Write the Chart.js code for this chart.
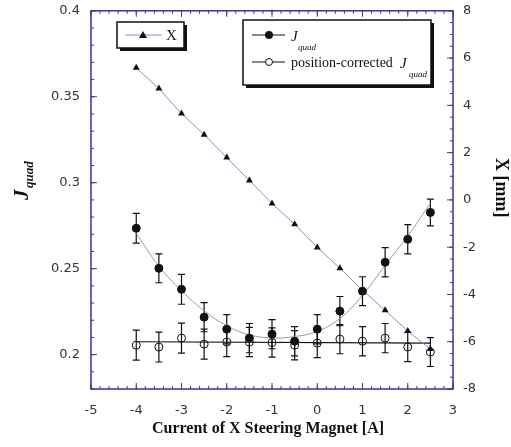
<!DOCTYPE html>
<html>
<head>
<meta charset="utf-8">
<script src="https://cdn.jsdelivr.net/npm/chart.js@4.4.0/dist/chart.umd.min.js"></script>
<style>
  html, body { margin: 0; padding: 0; background: #fff; }
</style>
</head>
<body>
<canvas id="myChart" width="511" height="447"></canvas>
<script>
// steering magnet current [A]
var currents = [-4, -3.5, -3, -2.5, -2, -1.5, -1, -0.5, 0, 0.5, 1, 1.5, 2, 2.5];
// J_quad (filled circles) and its error
var jquad = [0.2735, 0.2502, 0.2380, 0.2218, 0.2148, 0.2096, 0.2119, 0.2078, 0.2148, 0.2253, 0.2369, 0.2537, 0.2671, 0.2827];
var jquadErr = [0.0087, 0.0084, 0.0087, 0.0085, 0.0085, 0.0085, 0.0085, 0.0085, 0.0085, 0.0085, 0.0084, 0.0085, 0.0085, 0.0078];
// position-corrected J_quad (open circles)
var jcorr = [0.2055, 0.2044, 0.2096, 0.2061, 0.2073, 0.2073, 0.2070, 0.2055, 0.2067, 0.2090, 0.2078, 0.2096, 0.2044, 0.2015];
var jcorrErr = [0.0087, 0.0087, 0.0087, 0.0087, 0.0085, 0.0085, 0.0085, 0.0085, 0.0085, 0.0085, 0.0085, 0.0085, 0.0085, 0.0084];
// beam position X [mm] (triangles, right axis)
var xPos = [5.59, 4.71, 3.65, 2.76, 1.79, 0.82, -0.15, -1.03, -2.01, -2.89, -3.82, -4.67, -5.55, -6.31];
// fit curves
var fitJ = [0.2705, 0.2515, 0.2372, 0.2255, 0.2168, 0.2115, 0.2097, 0.2105, 0.2135, 0.2210, 0.2345, 0.2520, 0.2690, 0.2880];
var fitCorrX = [-4, 2.5];
var fitCorr = [0.2075, 0.2067];
// tick labels
var xTicks = [-5, -4, -3, -2, -1, 0, 1, 2, 3];
var yLeftTicks = [0.2, 0.25, 0.3, 0.35, 0.4];
var yRightTicks = [-8, -6, -4, -2, 0, 2, 4, 6, 8];

var axisBlue = "#35359c";
var tickFont = { family: "DejaVu Sans", size: 13 };
var tickColor = "#333";

function pts(xs, ys) {
  return xs.map(function (x, i) { return { x: x, y: ys[i] }; });
}

// error bars for the two J series
var errorBars = {
  id: "errorBars",
  beforeDatasetsDraw: function (chart) {
    var ctx = chart.ctx;
    var xs = chart.scales.x, ys = chart.scales.y;
    ctx.save();
    ctx.strokeStyle = "#111";
    ctx.lineWidth = 1.2;
    [[jquad, jquadErr], [jcorr, jcorrErr]].forEach(function (s) {
      currents.forEach(function (c, i) {
        var px = xs.getPixelForValue(c);
        var top = ys.getPixelForValue(s[0][i] + s[1][i]);
        var bot = ys.getPixelForValue(s[0][i] - s[1][i]);
        ctx.beginPath();
        ctx.moveTo(px, top); ctx.lineTo(px, bot);
        ctx.moveTo(px - 3.5, top); ctx.lineTo(px + 3.5, top);
        ctx.moveTo(px - 3.5, bot); ctx.lineTo(px + 3.5, bot);
        ctx.stroke();
      });
    });
    ctx.restore();
  }
};

function drawTicks(ctx, scale, from, to, step, pos, len, area) {
  var n = Math.round((to - from) / step);
  for (var i = 0; i <= n; i++) {
    var v = from + i * step;
    var p = scale.getPixelForValue(v);
    ctx.beginPath();
    if (pos === "bottom") { ctx.moveTo(p, area.bottom); ctx.lineTo(p, area.bottom - len); }
    if (pos === "top") { ctx.moveTo(p, area.top); ctx.lineTo(p, area.top + len); }
    if (pos === "left") { ctx.moveTo(area.left, p); ctx.lineTo(area.left + len, p); }
    if (pos === "right") { ctx.moveTo(area.right, p); ctx.lineTo(area.right - len, p); }
    ctx.stroke();
  }
}

function box(ctx, x, y, w, h) {
  ctx.fillStyle = "#111";
  ctx.fillRect(x + 3, y + 3, w, h);
  ctx.fillStyle = "#fff";
  ctx.fillRect(x, y, w, h);
  ctx.strokeStyle = "#111";
  ctx.lineWidth = 1.5;
  ctx.strokeRect(x, y, w, h);
}

var decorations = {
  id: "decorations",
  afterDatasetsDraw: function (chart) {
    var ctx = chart.ctx, a = chart.chartArea;
    var xs = chart.scales.x, yl = chart.scales.y, yr = chart.scales.y2;
    ctx.save();
    // frame + inward ticks
    ctx.strokeStyle = axisBlue;
    ctx.lineWidth = 1.5;
    ctx.strokeRect(a.left, a.top, a.right - a.left, a.bottom - a.top);
    ctx.lineWidth = 1;
    drawTicks(ctx, xs, -5, 3, 1, "bottom", 6, a);
    drawTicks(ctx, xs, -5, 3, 0.2, "bottom", 3, a);
    drawTicks(ctx, xs, -5, 3, 1, "top", 6, a);
    drawTicks(ctx, xs, -5, 3, 0.2, "top", 3, a);
    drawTicks(ctx, yl, 0.2, 0.4, 0.05, "left", 6, a);
    drawTicks(ctx, yl, 0.18, 0.4, 0.01, "left", 3, a);
    drawTicks(ctx, yr, -8, 8, 2, "right", 6, a);
    drawTicks(ctx, yr, -8, 8, 0.5, "right", 3, a);

    // legend 1
    box(ctx, 117, 22, 67, 26);
    ctx.strokeStyle = "#8c8cd0"; ctx.lineWidth = 1;
    ctx.beginPath(); ctx.moveTo(125, 35); ctx.lineTo(162, 35); ctx.stroke();
    ctx.fillStyle = "#111";
    ctx.beginPath(); ctx.moveTo(143, 31); ctx.lineTo(147, 38); ctx.lineTo(139, 38); ctx.closePath(); ctx.fill();
    ctx.font = '15px "Liberation Serif"';
    ctx.textAlign = "left"; ctx.textBaseline = "alphabetic";
    ctx.fillText("X", 166, 40);

    // legend 2
    box(ctx, 243, 20, 188, 65);
    ctx.strokeStyle = "#111"; ctx.lineWidth = 1;
    ctx.beginPath(); ctx.moveTo(252, 35); ctx.lineTo(285, 35); ctx.stroke();
    ctx.beginPath(); ctx.moveTo(252, 62); ctx.lineTo(285, 62); ctx.stroke();
    ctx.fillStyle = "#111";
    ctx.beginPath(); ctx.arc(269, 35, 4, 0, Math.PI * 2); ctx.fill();
    ctx.fillStyle = "#fff";
    ctx.beginPath(); ctx.arc(269, 62, 3.5, 0, Math.PI * 2); ctx.fill(); ctx.stroke();
    ctx.fillStyle = "#111";
    ctx.font = 'italic 15px "Liberation Serif"';
    ctx.fillText("J", 291, 41);
    ctx.font = 'italic 9px "Liberation Serif"';
    ctx.fillText("quad", 298, 50);
    ctx.font = '14px "Liberation Serif"';
    ctx.fillText("position-corrected", 291, 67);
    ctx.font = 'italic 15px "Liberation Serif"';
    ctx.fillText("J", 400, 68);
    ctx.font = 'italic 9px "Liberation Serif"';
    ctx.fillText("quad", 409, 77);

    // axis titles
    ctx.fillStyle = "#111";
    ctx.save();
    ctx.translate(28, 200);
    ctx.rotate(-Math.PI / 2);
    ctx.font = 'bold italic 21px "Liberation Serif"';
    ctx.fillText("J", 0, 0);
    ctx.font = 'bold italic 13px "Liberation Serif"';
    ctx.fillText("quad", 12, 5);
    ctx.restore();

    ctx.save();
    ctx.translate(496, 158);
    ctx.rotate(Math.PI / 2);
    ctx.font = 'bold 18px "Liberation Serif"';
    ctx.fillText("X [mm]", 0, 0);
    ctx.restore();

    ctx.textAlign = "center";
    ctx.font = 'bold 16px "Liberation Serif"';
    ctx.fillText("Current of X Steering Magnet [A]", 268, 433);
    ctx.restore();
  }
};

var ctx = document.getElementById("myChart");
window.chart = new Chart(ctx, {
  type: "scatter",
  data: {
    datasets: [
      {
        label: "J_quad",
        data: pts(currents, jquad),
        yAxisID: "y",
        showLine: false,
        pointStyle: "circle",
        pointRadius: 4,
        backgroundColor: "#111",
        borderColor: "#111",
        order: 1
      },
      {
        label: "position-corrected J_quad",
        data: pts(currents, jcorr),
        yAxisID: "y",
        showLine: false,
        pointStyle: "circle",
        pointRadius: 4,
        borderWidth: 1,
        backgroundColor: "rgba(255,255,255,0)",
        borderColor: "#111",
        order: 2
      },
      {
        label: "X",
        data: pts(currents, xPos),
        yAxisID: "y2",
        showLine: true,
        borderColor: "#8c8cd0",
        borderWidth: 1,
        pointStyle: "triangle",
        pointRadius: 4,
        pointBackgroundColor: "#111",
        pointBorderColor: "#111",
        pointBorderWidth: 0,
        order: 3
      },
      {
        label: "fit J",
        data: pts(currents, fitJ),
        yAxisID: "y",
        showLine: true,
        tension: 0.4,
        borderColor: "#999",
        borderWidth: 1,
        pointRadius: 0,
        order: 4
      },
      {
        label: "fit corrected",
        data: pts(fitCorrX, fitCorr),
        yAxisID: "y",
        showLine: true,
        borderColor: "#111",
        borderWidth: 1.2,
        pointRadius: 0,
        order: 5
      }
    ]
  },
  options: {
    responsive: false,
    animation: false,
    layout: { padding: { top: 10, left: 0, right: 0, bottom: 0 } },
    plugins: { legend: { display: false }, tooltip: { enabled: false } },
    scales: {
      x: {
        type: "linear",
        position: "bottom",
        min: -5,
        max: 3,
        afterBuildTicks: function (s) { s.ticks = xTicks.map(function (v) { return { value: v }; }); },
        ticks: { font: tickFont, color: tickColor, padding: 6, maxRotation: 0, autoSkip: false },
        grid: { display: false },
        border: { display: false },
        afterFit: function (s) { s.height = 58; }
      },
      y: {
        position: "left",
        min: 0.18,
        max: 0.4,
        afterBuildTicks: function (s) { s.ticks = yLeftTicks.map(function (v) { return { value: v }; }); },
        ticks: { font: tickFont, color: tickColor, padding: 3, callback: function (v) { return String(v); } },
        grid: { display: false },
        border: { display: false },
        afterFit: function (s) { s.width = 91; }
      },
      y2: {
        position: "right",
        min: -8,
        max: 8,
        afterBuildTicks: function (s) { s.ticks = yRightTicks.map(function (v) { return { value: v }; }); },
        ticks: { font: tickFont, color: tickColor, padding: 2 },
        grid: { display: false },
        border: { display: false },
        afterFit: function (s) { s.width = 58; }
      }
    }
  },
  plugins: [errorBars, decorations]
});
</script>
</body>
</html>
